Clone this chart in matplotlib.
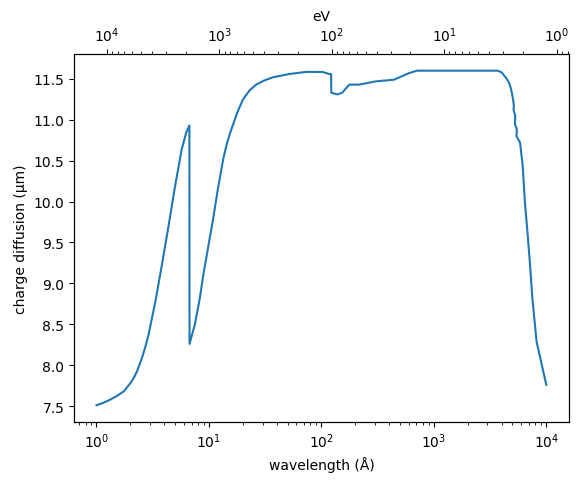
import matplotlib
matplotlib.use("Agg")
import matplotlib.pyplot as plt

# wavelength in Angstrom and charge diffusion in micron
wavelength = [1.0, 1.15, 1.33, 1.5, 1.75, 2.0, 2.14, 2.3, 2.54, 2.7, 2.90, 3.33, 3.81, 4.37,
              5.0, 5.73, 6.3, 6.70,
              6.72, 7.5, 8.3, 8.9, 10.9, 12.0, 13.4, 14.5, 15.8, 18.0, 20.1, 23.0, 26.3, 31.0, 37.2,
              52.1, 73.3, 102, 117,
              122, 122.5, 139, 153, 177, 217, 307, 443, 601, 708, 3700, 4000, 4170, 4450, 4680,
              4850, 5010,
              5150, 5120, 5300, 5260, 5480, 5430, 5850, 6170, 6460, 6840, 7180, 7520, 8200, 10000]
diffusion = [7.51, 7.54, 7.58, 7.62, 7.68, 7.78, 7.84, 7.93, 8.09, 8.21, 8.37, 8.77, 9.22, 9.70,
             10.19, 10.64, 10.85, 10.93,
             8.26, 8.50, 8.82, 9.10, 9.79, 10.15, 10.52, 10.72, 10.88, 11.10, 11.25, 11.36, 11.43, 11.48,
             11.52, 11.56, 11.585, 11.585, 11.56,
             11.56, 11.33, 11.31, 11.33, 11.43, 11.43, 11.47, 11.49, 11.57, 11.60, 11.60, 11.58, 11.55, 11.50, 11.45,
             11.38, 11.29,
             11.18, 11.12, 11.05, 10.95, 10.88, 10.80, 10.72, 10.44, 9.99, 9.59, 9.22, 8.82, 8.29, 7.76]

HC = 12398.4  # eV * Angstrom

fig = plt.figure(figsize=(5.8, 4.89), dpi=100)
ax = fig.add_axes([0.1276, 0.135, 0.853, 0.7526])
ax.plot(wavelength, diffusion)
ax.set_xscale('log')
ax.set_xlabel('wavelength (Å)')
ax.set_ylabel('charge diffusion (μm)')

# photon energy on the top axis
top = ax.twiny()
top.set_xscale('log')
lo, hi = ax.get_xlim()
top.set_xlim(HC / lo, HC / hi)
top.set_xlabel('eV')

fig.savefig('out.png', dpi=100)
